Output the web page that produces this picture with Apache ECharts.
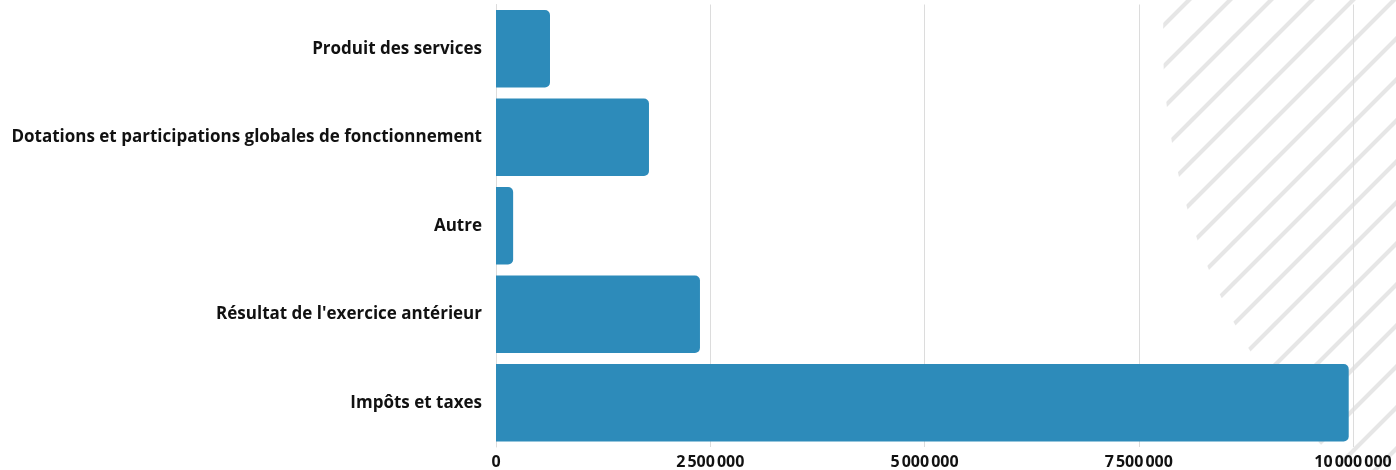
<!DOCTYPE html>
<html>
<head>
<meta charset="utf-8">
<script src="https://cdn.jsdelivr.net/npm/echarts@6/dist/echarts.min.js"></script>
<style>
html,body{margin:0;padding:0;background:#fff;}
#c{width:1396px;height:470px;}
</style>
</head>
<body>
<div id="c"></div>
<script>
const categories = [
  "Produit des services",
  "Dotations et participations globales de fonctionnement",
  "Autre",
  "Résultat de l'exercice antérieur",
  "Impôts et taxes"
];
const values = [630000, 1785000, 200000, 2380000, 9950000];
const xTicks = [0, 2500000, 5000000, 7500000, 10000000];

function fmt(v){
  return String(Math.round(v)).replace(/\B(?=(\d{3})+(?!\d))/g, '\u202f');
}

// stripe pattern tile
const tile = document.createElement('canvas');
const P = 41;
tile.width = P; tile.height = P;
const tc = tile.getContext('2d');
tc.strokeStyle = '#e6e6e6';
tc.lineWidth = 4.2;
tc.beginPath();
tc.moveTo(-P, P*2); tc.lineTo(P*2, -P);
tc.moveTo(-P, P); tc.lineTo(P, -P);
tc.moveTo(0, P*2); tc.lineTo(P*2, 0);
tc.stroke();

const chart = echarts.init(document.getElementById('c'), null, {renderer:'canvas'});
chart.setOption({
  animation: false,
  backgroundColor: '#fff',
  graphic: [{
    type: 'circle',
    z: -10,
    silent: true,
    shape: {cx: 1761, cy: 40, r: 598},
    style: {fill: {image: tile, repeat: 'repeat'}}
  }],
  grid: {left: 496, right: 43, top: 4.5, bottom: 20.5, containLabel: false},
  xAxis: {
    type: 'value',
    min: xTicks[0],
    max: xTicks[xTicks.length-1],
    interval: xTicks[1]-xTicks[0],
    axisLine: {show: false},
    axisTick: {show: false},
    splitLine: {show: true, lineStyle: {color: '#dcdcdc', width: 1}},
    axisLabel: {
      formatter: fmt,
      fontFamily: 'Open Sans',
      fontWeight: 'bold',
      fontSize: 16,
      color: '#111',
      margin: 7
    }
  },
  yAxis: {
    type: 'category',
    inverse: true,
    data: categories,
    axisLine: {show: true, lineStyle: {color: '#dcdcdc'}},
    axisTick: {show: false},
    axisLabel: {
      fontFamily: 'Open Sans',
      fontWeight: 'bold',
      fontSize: 17,
      color: '#111',
      margin: 14,
      padding: [6, 0, 0, 0]
    }
  },
  series: [{
    type: 'bar',
    data: values,
    barCategoryGap: '12.4%',
    itemStyle: {color: '#2d8bba', borderRadius: [0, 5, 5, 0]}
  }]
});
</script>
</body>
</html>
